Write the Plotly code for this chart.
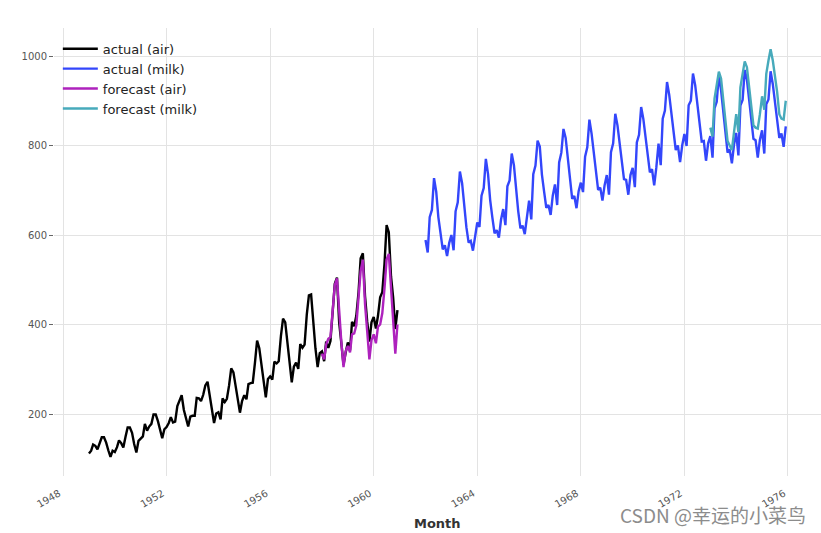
import pandas as pd
import plotly.graph_objects as go

# ---- data ----
air_start = "1949-01-01"
air_actual = [
    112, 118, 132, 129, 121, 135, 148, 148, 136, 119, 104, 118,
    115, 126, 141, 135, 125, 149, 170, 170, 158, 133, 114, 140,
    145, 150, 178, 163, 172, 178, 199, 199, 184, 162, 146, 166,
    171, 180, 193, 181, 183, 218, 230, 242, 209, 191, 172, 194,
    196, 196, 236, 235, 229, 243, 264, 272, 237, 211, 180, 201,
    204, 188, 235, 227, 234, 264, 302, 293, 259, 229, 203, 229,
    242, 233, 267, 269, 270, 315, 364, 347, 312, 274, 237, 278,
    284, 277, 317, 313, 318, 374, 413, 405, 355, 306, 271, 306,
    315, 301, 356, 348, 355, 422, 465, 467, 404, 347, 305, 336,
    340, 318, 362, 348, 363, 435, 491, 505, 404, 359, 310, 337,
    360, 342, 406, 396, 420, 472, 548, 559, 463, 407, 362, 405,
    417, 391, 419, 461, 472, 535, 622, 606, 508, 461, 390, 432,
]
milk_start = "1962-01-01"
milk_actual = [
    589, 561, 640, 656, 727, 697, 640, 599, 568, 577, 553, 582,
    600, 566, 653, 673, 742, 716, 660, 617, 583, 587, 565, 598,
    628, 618, 688, 705, 770, 736, 678, 639, 604, 611, 594, 634,
    658, 622, 709, 722, 782, 756, 702, 653, 615, 621, 602, 635,
    677, 635, 736, 755, 811, 798, 735, 697, 661, 667, 645, 688,
    713, 667, 762, 784, 837, 817, 767, 722, 681, 687, 660, 698,
    717, 696, 775, 796, 858, 826, 783, 740, 701, 706, 677, 711,
    734, 690, 785, 805, 871, 845, 801, 764, 725, 723, 690, 734,
    750, 707, 807, 824, 886, 859, 819, 783, 740, 747, 711, 751,
    804, 756, 860, 878, 942, 913, 869, 834, 790, 800, 763, 800,
    826, 799, 890, 900, 961, 935, 894, 855, 809, 810, 766, 805,
    821, 773, 883, 898, 957, 924, 881, 837, 784, 791, 760, 802,
    828, 778, 889, 902, 969, 947, 908, 867, 815, 812, 773, 813,
    834, 782, 892, 903, 966, 937, 896, 858, 817, 827, 797, 843,
]
air_fc_start = "1958-01-01"
air_forecast = [
    335, 322, 355, 368, 372, 430, 488, 503, 418, 362, 305, 340,
    352, 338, 378, 380, 398, 455, 520, 545, 445, 385, 322, 365,
    378, 358, 395, 400, 425, 480, 545, 558, 470, 410, 335, 400,
]
milk_fc_start = "1973-01-01"
milk_forecast = [
    840, 820, 905, 935, 965, 950, 905, 860, 810, 800, 790, 830,
    870, 830, 930, 960, 988, 975, 935, 890, 845, 840, 838, 870,
    910, 880, 960, 990, 1015, 990, 960, 920, 870, 860, 858, 900,
]
x_tick_years = [1948, 1952, 1956, 1960, 1964, 1968, 1972, 1976]
y_tick_vals = [200, 400, 600, 800, 1000]

series = [
    ("actual (air)", air_start, air_actual, "#000000"),
    ("actual (milk)", milk_start, milk_actual, "#3346fb"),
    ("forecast (air)", air_fc_start, air_forecast, "#ae22bd"),
    ("forecast (milk)", milk_fc_start, milk_forecast, "#47aabb"),
]

fig = go.Figure()
for name, start, vals, color in series:
    dates = pd.date_range(start, periods=len(vals), freq="MS")
    fig.add_trace(go.Scatter(x=dates, y=vals, mode="lines", name=name,
                             line=dict(color=color, width=2.4)))

fig.update_layout(
    width=821, height=533,
    margin=dict(l=54, r=0, t=28, b=57),
    paper_bgcolor="white", plot_bgcolor="white",
    font=dict(family="DejaVu Sans", color="#333"),
    showlegend=True,
    legend=dict(x=0.005, y=0.987, xanchor="left", yanchor="top",
                bgcolor="rgba(0,0,0,0)", font=dict(size=13, color="#222"),
                tracegroupgap=0, itemwidth=35),
)
fig.update_xaxes(
    range=["1947-08-27", "1977-04-11"],
    tickvals=[pd.Timestamp(f"{y}-01-01") for y in x_tick_years],
    ticktext=[str(y) for y in x_tick_years],
    tickangle=-30, tickfont=dict(size=10, color="#555"),
    ticklabelstandoff=9, ticklabelshift=-4,
    showgrid=True, gridcolor="#e3e3e3", gridwidth=1,
    showline=False, zeroline=False, ticks="",
)
fig.update_yaxes(
    range=[61.5, 1062.6],
    tickvals=y_tick_vals, ticktext=[str(v) for v in y_tick_vals],
    tickfont=dict(size=10, color="#555"),
    showgrid=True, gridcolor="#e3e3e3", gridwidth=1,
    showline=False, zeroline=False, ticks="outside", ticklen=4,
    tickcolor="#666", tickwidth=1,
)
fig.add_annotation(text="<b>Month</b>", xref="paper", yref="paper",
                   x=0.5, y=-0.107, showarrow=False, xanchor="center",
                   yanchor="middle", font=dict(size=13, color="#333"))
fig.add_annotation(text="CSDN @幸运的小菜鸟", xref="paper", yref="paper",
                   x=0.983, y=-0.087, showarrow=False, xanchor="right",
                   yanchor="middle",
                   font=dict(size=19, color="#8c8c8c",
                             family="Noto Sans CJK SC"))

fig.write_html("out.html", config={"displayModeBar": False},
               post_script="document.body.style.margin='0';")
